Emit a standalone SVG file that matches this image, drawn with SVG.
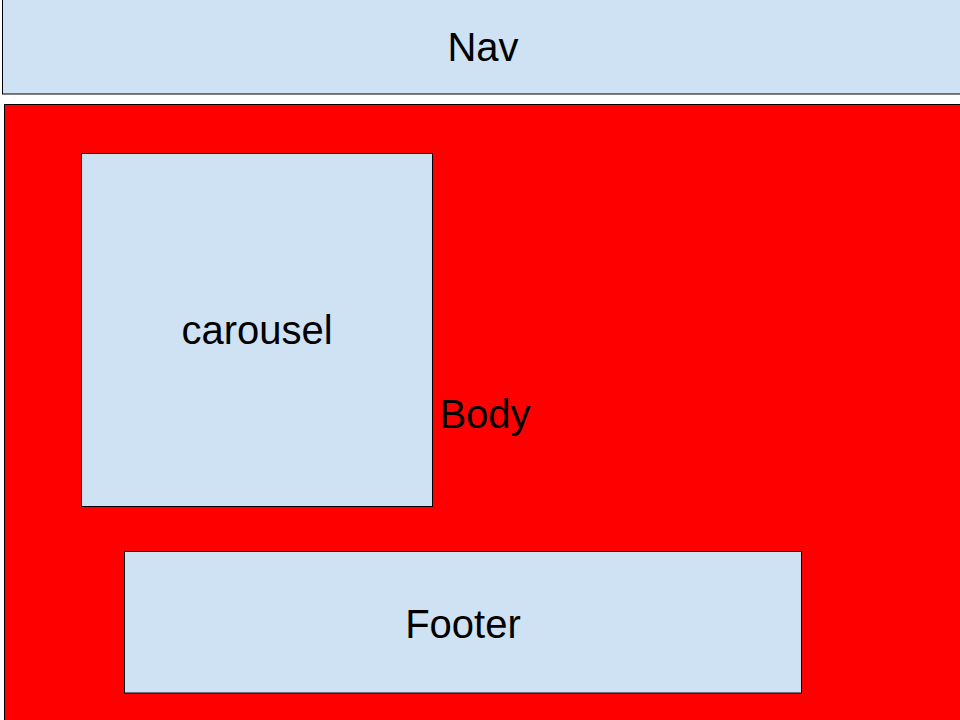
<svg xmlns="http://www.w3.org/2000/svg" width="960" height="720" viewBox="0 0 960 720">
<style>
.box{fill:#cfe2f3;stroke:#000;stroke-width:1}
.lbl{font-family:"Liberation Sans",Arial,sans-serif;font-size:40px;fill:#000;text-anchor:middle}
</style>
<rect width="960" height="720" fill="#fff"/>
<g id="nav">
<rect class="box" x="2.5" y="-1" width="962" height="95"/>
<text class="lbl" x="483" y="61">Nav</text>
</g>
<g id="body">
<rect x="4.5" y="104.5" width="962" height="622" fill="#ff0000" stroke="#000" stroke-width="1"/>
<text class="lbl" x="485" y="428">Body</text>
</g>
<g id="carousel">
<rect class="box" x="81.5" y="153.5" width="351" height="353"/>
<text class="lbl" x="257" y="344">carousel</text>
</g>
<g id="footer">
<rect class="box" x="124.5" y="551.5" width="677" height="141.5"/>
<text class="lbl" x="463" y="638">Footer</text>
</g>
<g id="connectors"/>
</svg>
